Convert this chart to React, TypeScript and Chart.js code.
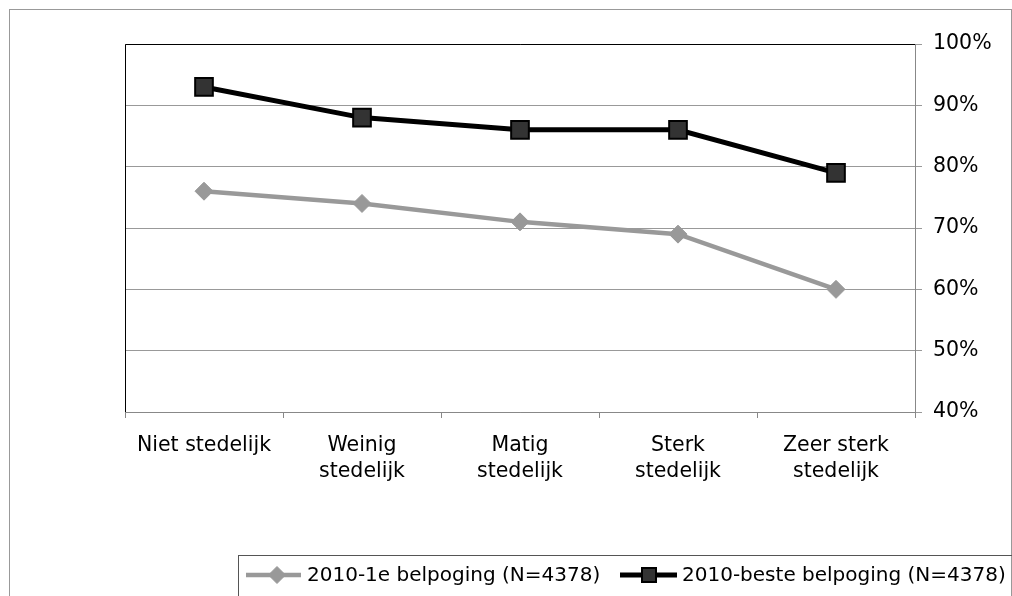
import React, { useEffect, useRef } from "react";
import { Chart, registerables } from "chart.js";

Chart.register(...registerables);

const categories: string[][] = [
  ["Niet stedelijk"],
  ["Weinig", "stedelijk"],
  ["Matig", "stedelijk"],
  ["Sterk", "stedelijk"],
  ["Zeer sterk", "stedelijk"],
];
const firstAttempt: number[] = [76, 74, 71, 69, 60];
const bestAttempt: number[] = [93, 88, 86, 86, 79];
const seriesNames: string[] = [
  "2010-1e belpoging (N=4378)",
  "2010-beste belpoging (N=4378)",
];

const FONT = "'DejaVu Sans', Verdana, sans-serif";
const W = 1012;
const H = 596;

const decorPlugin = {
  id: "decor",
  afterDraw(chart: any) {
    const ctx = chart.ctx;
    const a = chart.chartArea;
    ctx.save();
    // outer border
    ctx.strokeStyle = "#999999";
    ctx.lineWidth = 1;
    ctx.strokeRect(9.5, 9.5, W - 10, H);
    // plot left/top black border
    ctx.strokeStyle = "#000000";
    ctx.beginPath();
    ctx.moveTo(Math.round(a.left) + 0.5, Math.round(a.bottom));
    ctx.lineTo(Math.round(a.left) + 0.5, Math.round(a.top) + 0.5);
    ctx.lineTo(Math.round(a.right), Math.round(a.top) + 0.5);
    ctx.stroke();

    // legend
    const ds = chart.data.datasets;
    ctx.strokeStyle = "#555555";
    ctx.lineWidth = 1;
    ctx.strokeRect(238.5, 555.5, 800, 100);
    const cy = 575;
    ctx.font = `20px ${FONT}`;
    ctx.textBaseline = "middle";
    ctx.textAlign = "left";
    const items = [
      { x0: 246, x1: 301, mx: 277, tx: 307 },
      { x0: 620, x1: 677, mx: 649, tx: 682 },
    ];
    items.forEach((it, i) => {
      const d = ds[i];
      ctx.strokeStyle = d.borderColor;
      ctx.lineWidth = d.borderWidth;
      ctx.beginPath();
      ctx.moveTo(it.x0, cy);
      ctx.lineTo(it.x1, cy);
      ctx.stroke();
      ctx.fillStyle = d.pointBackgroundColor;
      ctx.strokeStyle = d.pointBorderColor;
      ctx.lineWidth = d.pointBorderWidth;
      ctx.beginPath();
      if (d.pointStyle === "rectRot") {
        const r = 8.5;
        ctx.moveTo(it.mx - r, cy);
        ctx.lineTo(it.mx, cy - r);
        ctx.lineTo(it.mx + r, cy);
        ctx.lineTo(it.mx, cy + r);
        ctx.closePath();
      } else {
        ctx.rect(it.mx - 7, cy - 7, 14, 14);
      }
      ctx.fill();
      ctx.stroke();
      ctx.fillStyle = "#000000";
      ctx.fillText(d.label, it.tx, cy + 1);
    });
    ctx.restore();
  },
};

export default function App() {
  const ref = useRef<HTMLCanvasElement | null>(null);
  useEffect(() => {
    if (!ref.current) return;
    const chart = new Chart(ref.current, {
      type: "line",
      data: {
        labels: categories,
        datasets: [
          {
            label: seriesNames[0],
            data: firstAttempt,
            borderColor: "#999999",
            backgroundColor: "#999999",
            borderWidth: 4.5,
            pointStyle: "rectRot",
            pointRadius: 9,
            pointHoverRadius: 9,
            pointBackgroundColor: "#999999",
            pointBorderColor: "#999999",
            pointBorderWidth: 1,
            tension: 0,
          },
          {
            label: seriesNames[1],
            data: bestAttempt,
            borderColor: "#000000",
            backgroundColor: "#333333",
            borderWidth: 5,
            pointStyle: "rect",
            pointRadius: 12.5,
            pointHoverRadius: 12.5,
            pointBackgroundColor: "#333333",
            pointBorderColor: "#000000",
            pointBorderWidth: 2,
            tension: 0,
          },
        ] as any,
      },
      options: {
        responsive: false,
        animation: false,
        events: [],
        layout: { padding: { left: 125, top: 44, right: 0, bottom: 0 } },
        plugins: {
          legend: { display: false },
          tooltip: { enabled: false },
          title: { display: false },
        },
        scales: {
          x: {
            type: "category",
            offset: true,
            grid: {
              offset: true,
              drawOnChartArea: false,
              color: "#888888",
              tickLength: 6,
            },
            border: { color: "#888888", width: 1 },
            ticks: {
              color: "#000000",
              font: { family: FONT, size: 20.5, lineHeight: 1.27 },
              padding: 15,
              maxRotation: 0,
              autoSkip: false,
            },
            afterFit: (s: any) => {
              s.height = H - 412;
            },
          },
          y: {
            position: "right",
            min: 40,
            max: 100,
            grid: { color: "#999999", tickLength: 7 },
            border: { color: "#888888", width: 1 },
            ticks: {
              stepSize: 10,
              color: "#000000",
              font: { family: FONT, size: 20.5 },
              padding: 11,
              callback: (v: any) => `${v}%`,
            },
            afterFit: (s: any) => {
              s.width = W - 915;
            },
          },
        },
      } as any,
      plugins: [decorPlugin],
    });
    return () => chart.destroy();
  }, []);
  return (
    <div style={{ position: "fixed", left: 0, top: 0, width: W, height: H, background: "#fff" }}>
      <canvas ref={ref} width={W} height={H} style={{ display: "block", width: W, height: H }} />
    </div>
  );
}
